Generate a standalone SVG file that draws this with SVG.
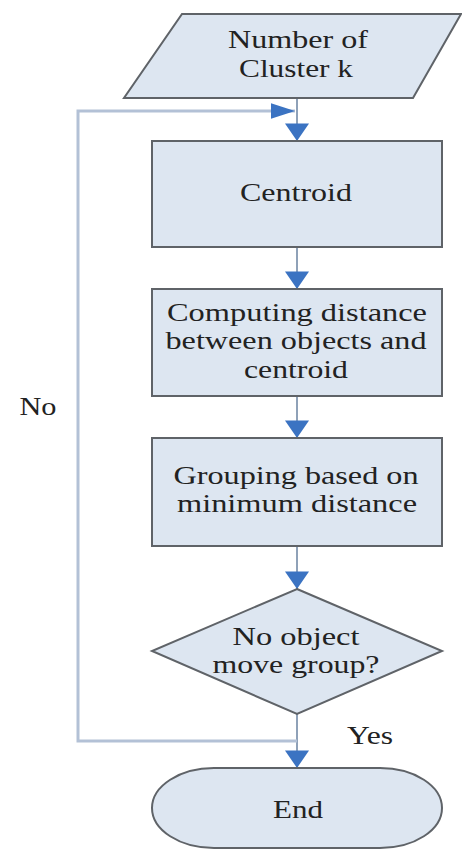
<svg xmlns="http://www.w3.org/2000/svg" width="462" height="850" viewBox="0 0 462 850">
<style>
.shape{fill:#dde6f1;stroke:#5f6368;stroke-width:2}
.t{font-family:"Liberation Serif","Times New Roman",serif;font-size:25px;fill:#222;text-anchor:middle}
.c{fill:none;stroke:#8fa1b8;stroke-width:2}
.loop{fill:none;stroke:#b3c1d6;stroke-width:3}
</style>
<defs>
<marker id="down" markerUnits="userSpaceOnUse" markerWidth="24" markerHeight="18" refX="11" refY="16" orient="0" viewBox="0 0 22 16">
<path d="M0,0 L22,0 L11,16 Z" fill="#3b73c2"/>
</marker>
<marker id="right" markerUnits="userSpaceOnUse" markerWidth="24" markerHeight="16" refX="22" refY="7" orient="0" viewBox="0 0 22 14">
<path d="M0,0 L22,7 L0,14 Z" fill="#3b73c2"/>
</marker>
</defs>
<g id="connectors">
<line class="c" x1="297" y1="98" x2="297" y2="141" marker-end="url(#down)"/>
<line class="c" x1="297" y1="247" x2="297" y2="289" marker-end="url(#down)"/>
<line class="c" x1="297" y1="396" x2="297" y2="438" marker-end="url(#down)"/>
<line class="c" x1="297" y1="546" x2="297" y2="589" marker-end="url(#down)"/>
<line class="c" x1="297" y1="714" x2="297" y2="768" marker-end="url(#down)"/>
<polyline class="loop" points="297,741 78,741 78,111 295,111" marker-end="url(#right)"/>
<text class="t" x="38" y="415" textLength="37" lengthAdjust="spacingAndGlyphs">No</text>
<text class="t" x="370" y="744" textLength="46" lengthAdjust="spacingAndGlyphs">Yes</text>
</g>
<g id="input">
<polygon class="shape" points="182,14 461,14 413,98 124,98"/>
<text class="t" x="298" y="48" textLength="140" lengthAdjust="spacingAndGlyphs">Number of</text>
<text class="t" x="296" y="77" textLength="114" lengthAdjust="spacingAndGlyphs">Cluster k</text>
</g>
<g id="centroid">
<rect class="shape" x="152" y="141" width="290" height="106"/>
<text class="t" x="296" y="201" textLength="112" lengthAdjust="spacingAndGlyphs">Centroid</text>
</g>
<g id="computing">
<rect class="shape" x="152" y="289" width="290" height="107"/>
<text class="t" x="297" y="321" textLength="260" lengthAdjust="spacingAndGlyphs">Computing distance</text>
<text class="t" x="296" y="349" textLength="261" lengthAdjust="spacingAndGlyphs">between objects and</text>
<text class="t" x="296" y="378" textLength="104" lengthAdjust="spacingAndGlyphs">centroid</text>
</g>
<g id="grouping">
<rect class="shape" x="152" y="438" width="290" height="108"/>
<text class="t" x="296" y="484" textLength="245" lengthAdjust="spacingAndGlyphs">Grouping based on</text>
<text class="t" x="297" y="512" textLength="240" lengthAdjust="spacingAndGlyphs">minimum distance</text>
</g>
<g id="decision">
<polygon class="shape" points="297,589 442,651 297,714 152,651"/>
<text class="t" x="296" y="645" textLength="127" lengthAdjust="spacingAndGlyphs">No object</text>
<text class="t" x="296" y="673" textLength="167" lengthAdjust="spacingAndGlyphs">move group?</text>
</g>
<g id="end">
<rect class="shape" x="152" y="768" width="290" height="80" rx="62" ry="40"/>
<text class="t" x="298" y="818" textLength="50" lengthAdjust="spacingAndGlyphs">End</text>
</g>
</svg>
